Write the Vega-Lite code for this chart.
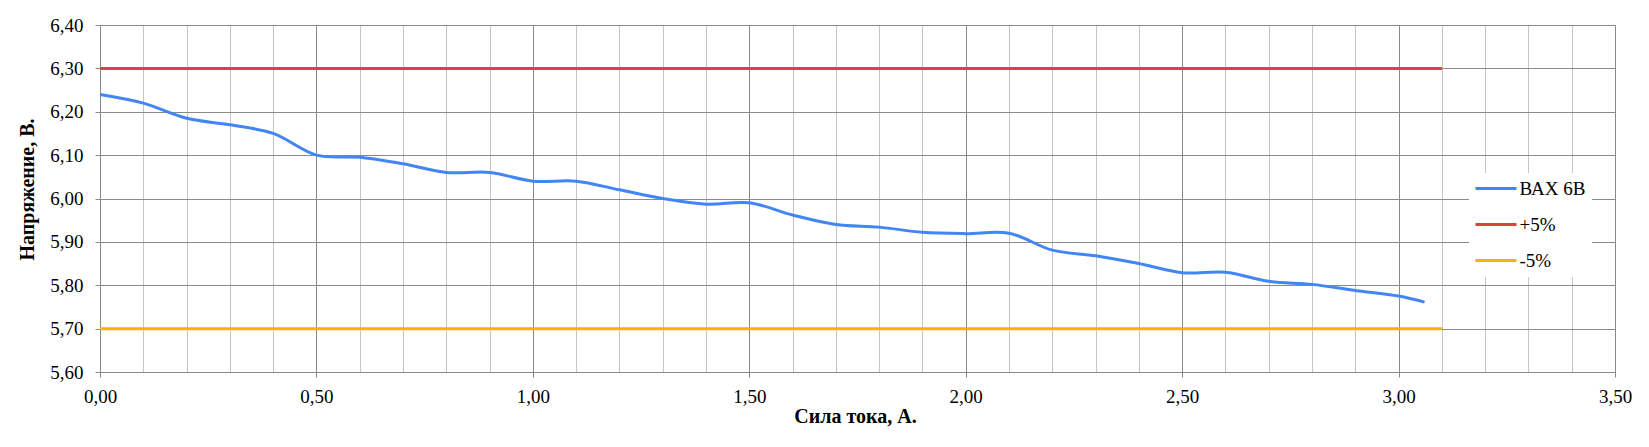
{
  "$schema": "https://vega.github.io/schema/vega-lite/v6.json",
  "width": 1515,
  "height": 347,
  "autosize": {"type": "none"},
  "padding": {"left": 100, "top": 25, "right": 34, "bottom": 75},
  "background": "white",
  "config": {"view": {"stroke": null}, "font": "Liberation Serif, Times New Roman, serif"},
  "data": {
    "values": [
      {"current": 0.0, "voltage": 6.24, "series": "ВАХ 6В"},
      {"current": 0.1, "voltage": 6.22, "series": "ВАХ 6В"},
      {"current": 0.2, "voltage": 6.185, "series": "ВАХ 6В"},
      {"current": 0.3, "voltage": 6.17, "series": "ВАХ 6В"},
      {"current": 0.4, "voltage": 6.15, "series": "ВАХ 6В"},
      {"current": 0.5, "voltage": 6.10, "series": "ВАХ 6В"},
      {"current": 0.6, "voltage": 6.095, "series": "ВАХ 6В"},
      {"current": 0.7, "voltage": 6.08, "series": "ВАХ 6В"},
      {"current": 0.8, "voltage": 6.06, "series": "ВАХ 6В"},
      {"current": 0.9, "voltage": 6.06, "series": "ВАХ 6В"},
      {"current": 1.0, "voltage": 6.04, "series": "ВАХ 6В"},
      {"current": 1.1, "voltage": 6.04, "series": "ВАХ 6В"},
      {"current": 1.2, "voltage": 6.02, "series": "ВАХ 6В"},
      {"current": 1.3, "voltage": 6.00, "series": "ВАХ 6В"},
      {"current": 1.4, "voltage": 5.987, "series": "ВАХ 6В"},
      {"current": 1.5, "voltage": 5.99, "series": "ВАХ 6В"},
      {"current": 1.6, "voltage": 5.962, "series": "ВАХ 6В"},
      {"current": 1.7, "voltage": 5.94, "series": "ВАХ 6В"},
      {"current": 1.8, "voltage": 5.934, "series": "ВАХ 6В"},
      {"current": 1.9, "voltage": 5.922, "series": "ВАХ 6В"},
      {"current": 2.0, "voltage": 5.919, "series": "ВАХ 6В"},
      {"current": 2.1, "voltage": 5.92, "series": "ВАХ 6В"},
      {"current": 2.2, "voltage": 5.881, "series": "ВАХ 6В"},
      {"current": 2.3, "voltage": 5.868, "series": "ВАХ 6В"},
      {"current": 2.4, "voltage": 5.85, "series": "ВАХ 6В"},
      {"current": 2.5, "voltage": 5.829, "series": "ВАХ 6В"},
      {"current": 2.6, "voltage": 5.83, "series": "ВАХ 6В"},
      {"current": 2.7, "voltage": 5.809, "series": "ВАХ 6В"},
      {"current": 2.8, "voltage": 5.802, "series": "ВАХ 6В"},
      {"current": 2.9, "voltage": 5.788, "series": "ВАХ 6В"},
      {"current": 3.0, "voltage": 5.775, "series": "ВАХ 6В"},
      {"current": 3.06, "voltage": 5.761, "series": "ВАХ 6В"},
      {"current": 0.0, "voltage": 6.30, "series": "+5%"},
      {"current": 3.1, "voltage": 6.30, "series": "+5%"},
      {"current": 0.0, "voltage": 5.70, "series": "-5%"},
      {"current": 3.1, "voltage": 5.70, "series": "-5%"}
    ]
  },
  "mark": {"type": "line", "interpolate": "catmull-rom", "strokeWidth": 3},
  "encoding": {
    "x": {
      "field": "current",
      "type": "quantitative",
      "scale": {"domain": [0, 3.5], "nice": false, "zero": false},
      "axis": {
        "values": [0, 0.1, 0.2, 0.3, 0.4, 0.5, 0.6, 0.7, 0.8, 0.9, 1.0, 1.1, 1.2, 1.3, 1.4, 1.5, 1.6, 1.7, 1.8, 1.9, 2.0, 2.1, 2.2, 2.3, 2.4, 2.5, 2.6, 2.7, 2.8, 2.9, 3.0, 3.1, 3.2, 3.3, 3.4, 3.5],
        "title": "Сила тока, А.",
        "titleFont": "Liberation Serif, Times New Roman, serif",
        "titleFontSize": 20,
        "titleFontWeight": "bold",
        "titleColor": "black",
        "titleX": 755,
        "titleY": 50,
        "titleAlign": "center",
        "titleBaseline": "alphabetic",
        "labelExpr": "abs(datum.value*2 - round(datum.value*2)) < 0.001 ? replace(format(datum.value, '.2f'), '.', ',') : ''",
        "labelFont": "Liberation Serif, Times New Roman, serif",
        "labelFontSize": 19,
        "labelColor": "black",
        "labelBaseline": "alphabetic",
        "labelPadding": 25,
        "labelOverlap": false,
        "labelFlush": false,
        "tickSize": 5,
        "tickColor": "#8a8a8a",
        "tickOpacity": {"condition": {"test": "abs(datum.value*2 - round(datum.value*2)) < 0.001", "value": 1}, "value": 0},
        "grid": true,
        "gridColor": {"condition": {"test": "abs(datum.value*2 - round(datum.value*2)) < 0.001", "value": "#8a8a8a"}, "value": "#c4c4c4"},
        "gridWidth": 1,
        "domainColor": "#8a8a8a"
      }
    },
    "y": {
      "field": "voltage",
      "type": "quantitative",
      "scale": {"domain": [5.6, 6.4], "nice": false, "zero": false},
      "axis": {
        "values": [5.6, 5.7, 5.8, 5.9, 6.0, 6.1, 6.2, 6.3, 6.4],
        "title": "Напряжение, В.",
        "titleFont": "Liberation Serif, Times New Roman, serif",
        "titleFontSize": 20,
        "titleFontWeight": "bold",
        "titleColor": "black",
        "titleAngle": 270,
        "titleX": -67,
        "titleY": 164,
        "titleAlign": "center",
        "titleBaseline": "alphabetic",
        "labelExpr": "replace(format(datum.value, '.2f'), '.', ',')",
        "labelFont": "Liberation Serif, Times New Roman, serif",
        "labelFontSize": 19,
        "labelColor": "black",
        "labelAlign": "right",
        "labelBaseline": "middle",
        "labelPadding": 12,
        "labelOverlap": false,
        "labelFlush": false,
        "tickSize": 5,
        "tickColor": "#8a8a8a",
        "grid": true,
        "gridColor": "#8a8a8a",
        "gridWidth": 1,
        "domainColor": "#8a8a8a"
      }
    },
    "color": {
      "field": "series",
      "type": "nominal",
      "scale": {"domain": ["ВАХ 6В", "+5%", "-5%"], "range": ["#4285F4", "#DB4437", "#F4B400"]},
      "legend": {
        "title": null,
        "orient": "none",
        "legendX": 1369,
        "legendY": 148,
        "fillColor": "white",
        "padding": 6,
        "symbolType": "M-2.733,0H2.733",
        "symbolSize": 225,
        "symbolStrokeWidth": 3,
        "symbolOffset": 11.5,
        "labelOffset": 14,
        "rowPadding": 16,
        "labelFont": "Liberation Serif, Times New Roman, serif",
        "labelFontSize": 19,
        "labelColor": "black",
        "labelLimit": 300,
        "labelExpr": "datum.label + '\u00a0'"
      }
    }
  }
}
